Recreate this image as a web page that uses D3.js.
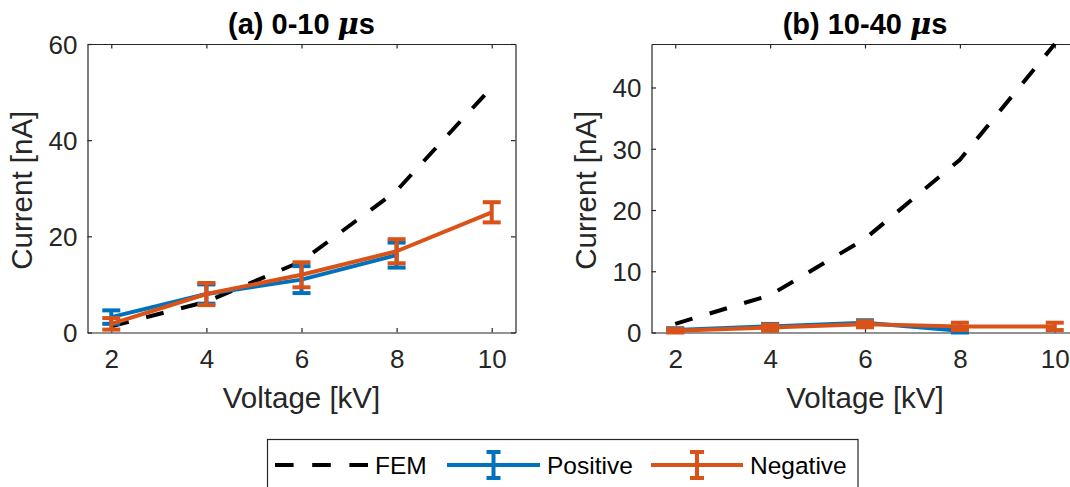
<!DOCTYPE html>
<html>
<head>
<meta charset="utf-8">
<script src="https://cdn.jsdelivr.net/npm/d3@7/dist/d3.min.js"></script>
<style>
  html, body { margin: 0; padding: 0; background: #fff; }
  svg { display: block; }
  text { font-family: "Liberation Sans", Arial, Helvetica, sans-serif; }
</style>
</head>
<body>
<svg id="chart" width="1070" height="487"></svg>
<script>
// Applied voltage [kV]
const voltage = [2, 4, 6, 8, 10];
const xTicks = [2, 4, 6, 8, 10];

// (a) 0-10 us window
const femA = [1.3, 6.4, 14.8, 29.5, 51.0];
const posA = [3.2, 8.0, 11.0, 16.1, null];
const posAErr = [1.4, 2.0, 2.8, 2.6, null];
const negA = [1.8, 8.0, 12.0, 16.9, 25.0];
const negAErr = [1.2, 2.3, 2.6, 2.5, 2.1];
const yTicksA = [0, 20, 40, 60];

// (b) 10-40 us window
const femB = [1.4, 6.1, 15.3, 28.2, 47.1];
const posB = [0.4, 1.0, 1.6, 0.3, null];
const posBErr = [0.3, 0.4, 0.4, 0.3, null];
const negB = [0.3, 0.8, 1.35, 1.0, 1.0];
const negBErr = [0.3, 0.5, 0.5, 0.6, 0.6];
const yTicksB = [0, 10, 20, 30, 40];

const BLUE = "#0072BD", ORANGE = "#D95319", AXIS = "#262626";
const LW = 4, CAP = 9, DASH = "18,18";

const svg = d3.select("#chart");

function panel(opts) {
  const { left, right, top, bottom, yMax, yTicks, fem, pos, posErr, neg, negErr, label } = opts;
  const x = d3.scaleLinear().domain([1.5, 10.5]).range([left, right]);
  const y = d3.scaleLinear().domain([0, yMax]).range([bottom, top]);
  const g = svg.append("g");

  // box axes with inward ticks
  const tick = 4.5;
  const axB = g.append("g").attr("transform", `translate(0,${bottom})`)
    .call(d3.axisBottom(x).tickValues(xTicks).tickSizeInner(-tick).tickSizeOuter(0).tickPadding(17));
  const axT = g.append("g").attr("transform", `translate(0,${top})`)
    .call(d3.axisTop(x).tickValues(xTicks).tickSizeInner(-tick).tickSizeOuter(0).tickFormat(""));
  const axL = g.append("g").attr("transform", `translate(${left},0)`)
    .call(d3.axisLeft(y).tickValues(yTicks).tickSizeInner(-tick).tickSizeOuter(0).tickPadding(10));
  const axR = g.append("g").attr("transform", `translate(${right},0)`)
    .call(d3.axisRight(y).tickValues(yTicks).tickSizeInner(-tick).tickSizeOuter(0).tickFormat(""));
  [axB, axT, axL, axR].forEach(a => {
    a.selectAll("path.domain").attr("stroke", AXIS).attr("stroke-width", 1.2);
    a.selectAll(".tick line").attr("stroke", AXIS).attr("stroke-width", 1.2);
    a.selectAll(".tick text").attr("fill", AXIS).style("font-size", "26px")
      .style("font-family", '"Liberation Sans", Arial, Helvetica, sans-serif');
  });
  axL.selectAll(".tick text").attr("dy", "0.36em");

  // axis labels
  g.append("text").attr("x", (left + right) / 2).attr("y", bottom + 75)
    .attr("text-anchor", "middle").attr("fill", AXIS).style("font-size", "29.5px")
    .text("Voltage [kV]");
  g.append("text")
    .attr("transform", `translate(${left - 56},${(top + bottom) / 2 + 2}) rotate(-90)`)
    .attr("text-anchor", "middle").attr("fill", AXIS).style("font-size", "29.5px")
    .text("Current [nA]");

  // title
  const t = g.append("text").attr("x", (left + right) / 2).attr("y", top - 10)
    .attr("text-anchor", "middle").attr("fill", "#000").style("font-size", "29px")
    .style("font-weight", "bold");
  t.append("tspan").text(label[0]);
  t.append("tspan").style("font-style", "italic").style("font-family", '"DejaVu Serif", serif').text("μ");
  t.append("tspan").text("s");

  const plot = g.append("g");

  // FEM prediction
  const line = d3.line().defined(d => d[1] != null).x(d => x(d[0])).y(d => y(d[1]));
  plot.append("path").datum(voltage.map((v, i) => [v, fem[i]]))
    .attr("d", line).attr("fill", "none").attr("stroke", "#000")
    .attr("stroke-width", LW).attr("stroke-dasharray", DASH);

  // measured series with error bars
  function series(vals, errs, color) {
    const pts = voltage.map((v, i) => [v, vals[i], errs[i]]).filter(d => d[1] != null);
    const s = plot.append("g");
    s.append("path").datum(pts).attr("d", line).attr("fill", "none")
      .attr("stroke", color).attr("stroke-width", LW).attr("stroke-linejoin", "round");
    const eb = s.selectAll("g.eb").data(pts).join("g").attr("class", "eb");
    eb.append("line").attr("x1", d => x(d[0])).attr("x2", d => x(d[0]))
      .attr("y1", d => y(d[1] - d[2])).attr("y2", d => y(d[1] + d[2]))
      .attr("stroke", color).attr("stroke-width", LW);
    eb.append("line").attr("x1", d => x(d[0]) - CAP).attr("x2", d => x(d[0]) + CAP)
      .attr("y1", d => y(d[1] - d[2])).attr("y2", d => y(d[1] - d[2]))
      .attr("stroke", color).attr("stroke-width", LW);
    eb.append("line").attr("x1", d => x(d[0]) - CAP).attr("x2", d => x(d[0]) + CAP)
      .attr("y1", d => y(d[1] + d[2])).attr("y2", d => y(d[1] + d[2]))
      .attr("stroke", color).attr("stroke-width", LW);
  }
  series(pos, posErr, BLUE);
  series(neg, negErr, ORANGE);
}

panel({ left: 87.5, right: 515.5, top: 44, bottom: 332.5, yMax: 60, yTicks: yTicksA,
  fem: femA, pos: posA, posErr: posAErr, neg: negA, negErr: negAErr, label: ["(a) 0-10 "] });
panel({ left: 651.5, right: 1078.5, top: 44, bottom: 332.5, yMax: 47.1, yTicks: yTicksB,
  fem: femB, pos: posB, posErr: posBErr, neg: negB, negErr: negBErr, label: ["(b) 10-40 "] });

// legend
const lg = svg.append("g");
lg.append("rect").attr("x", 267.5).attr("y", 439.5).attr("width", 590.5).attr("height", 60)
  .attr("fill", "#fff").attr("stroke", AXIS).attr("stroke-width", 1.2);
const ly = 465;
const legendItems = [
  { name: "FEM", color: "#000", dash: true, x0: 275, x1: 368 },
  { name: "Positive", color: BLUE, dash: false, x0: 447, x1: 540 },
  { name: "Negative", color: ORANGE, dash: false, x0: 651, x1: 743 }
];
legendItems.forEach(it => {
  lg.append("line").attr("x1", it.x0).attr("x2", it.x1).attr("y1", ly).attr("y2", ly)
    .attr("stroke", it.color).attr("stroke-width", LW)
    .attr("stroke-dasharray", it.dash ? "18.6,18.6" : null);
  if (!it.dash) {
    const cx = (it.x0 + it.x1) / 2;
    lg.append("line").attr("x1", cx).attr("x2", cx).attr("y1", ly - 13).attr("y2", ly + 13)
      .attr("stroke", it.color).attr("stroke-width", LW);
    [ly - 13, ly + 13].forEach(yy => lg.append("line")
      .attr("x1", cx - 7).attr("x2", cx + 7).attr("y1", yy).attr("y2", yy)
      .attr("stroke", it.color).attr("stroke-width", LW));
  }
  lg.append("text").attr("x", it.x1 + 7).attr("y", ly + 9).attr("fill", "#000")
    .style("font-size", "24.5px").text(it.name);
});
</script>
</body>
</html>
